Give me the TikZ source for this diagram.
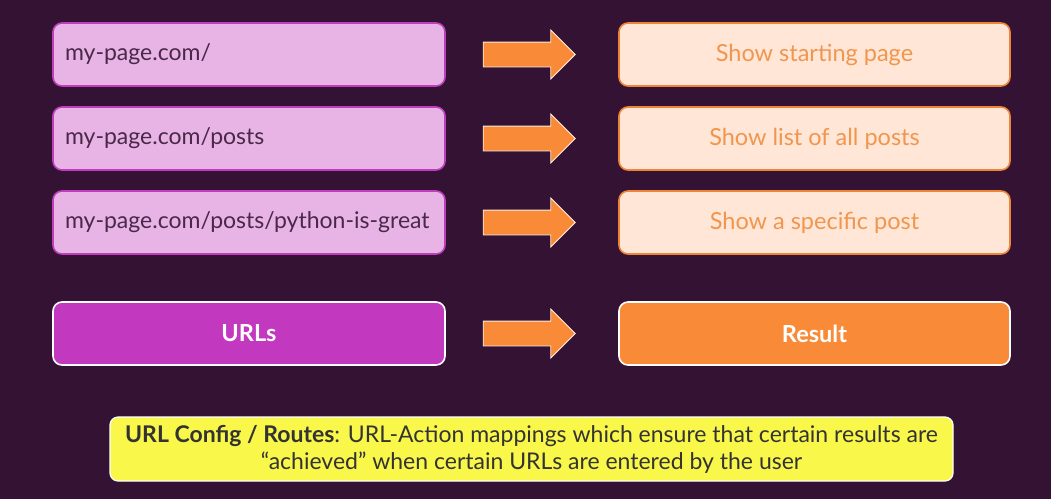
\documentclass[tikz,border=0pt]{standalone}
\usepackage{fontspec}
\setmainfont{Lato}
\usetikzlibrary{shapes.arrows}

\definecolor{bgpurple}{HTML}{331233}
\definecolor{urlfill}{HTML}{E8B4E6}
\definecolor{urldraw}{HTML}{C03EBE}
\definecolor{urltext}{HTML}{4A2848}
\definecolor{resfill}{HTML}{FFE6D6}
\definecolor{resdraw}{HTML}{EE8438}
\definecolor{restext}{HTML}{F0964E}
\definecolor{arrowfill}{HTML}{F98B38}
\definecolor{headurl}{HTML}{C238BE}
\definecolor{notefill}{HTML}{F9F74A}
\definecolor{notetext}{HTML}{333333}

\tikzset{
  urlbox/.style={draw=urldraw, line width=1.6pt, fill=urlfill, rounded corners=9pt,
    minimum width=392pt, minimum height=63pt, inner xsep=12pt,
    text width=368pt, align=left, text=urltext, font=\fontsize{23}{26}\selectfont},
  resbox/.style={draw=resdraw, line width=1.6pt, fill=resfill, rounded corners=9pt,
    minimum width=391pt, minimum height=63pt, text=restext,
    font=\fontsize{23.5}{26}\selectfont},
  headbox/.style={draw=white, line width=1.6pt, rounded corners=9pt,
    minimum width=392pt, minimum height=63pt, text=white,
    font=\bfseries\fontsize{23.5}{26}\selectfont},
  maparrow/.style={single arrow, draw=white!85!arrowfill, line width=0.8pt, fill=arrowfill,
    inner sep=12pt, single arrow head extend=12pt, minimum height=92pt},
}

\begin{document}
\begin{tikzpicture}[x=1pt,y=-1pt]
\fill[bgpurple] (0,0) rectangle (1051,499);
\useasboundingbox (0,0) rectangle (1051,499);

% URLs -> results
\node[urlbox] (url1) at (249,54.5) {my-page.com/};
\node[urlbox] (url2) at (249,138.5) {my-page.com/posts};
\node[urlbox] (url3) at (249,222.5) {my-page.com/posts/python-is-great};

\node[resbox] (res1) at (814.5,54.5) {Show starting page};
\node[resbox] (res2) at (814.5,138.5) {Show list of all posts};
\node[resbox] (res3) at (814.5,222.5) {Show a specific post};

\node[maparrow] (arr1) at (523,54.5) {};
\node[maparrow] (arr2) at (523,138.5) {};
\node[maparrow] (arr3) at (523,222.5) {};

% headings
\node[headbox, fill=headurl] (urls) at (249,333.5) {URLs};
\node[headbox, fill=arrowfill, minimum width=391pt] (result) at (814.5,333.5) {Result};
\node[maparrow] (arr4) at (523,333.5) {};

% note
\node[draw=white, line width=1.2pt, fill=notefill, rounded corners=8pt,
  minimum width=843pt, minimum height=64pt, text=notetext, align=center,
  font=\fontsize{23}{27}\selectfont] (note) at (531.5,449)
  {\textbf{URL Config / Routes}: URL-Action mappings which ensure that certain results are\\
   “achieved” when certain URLs are entered by the user};
\end{tikzpicture}
\end{document}
